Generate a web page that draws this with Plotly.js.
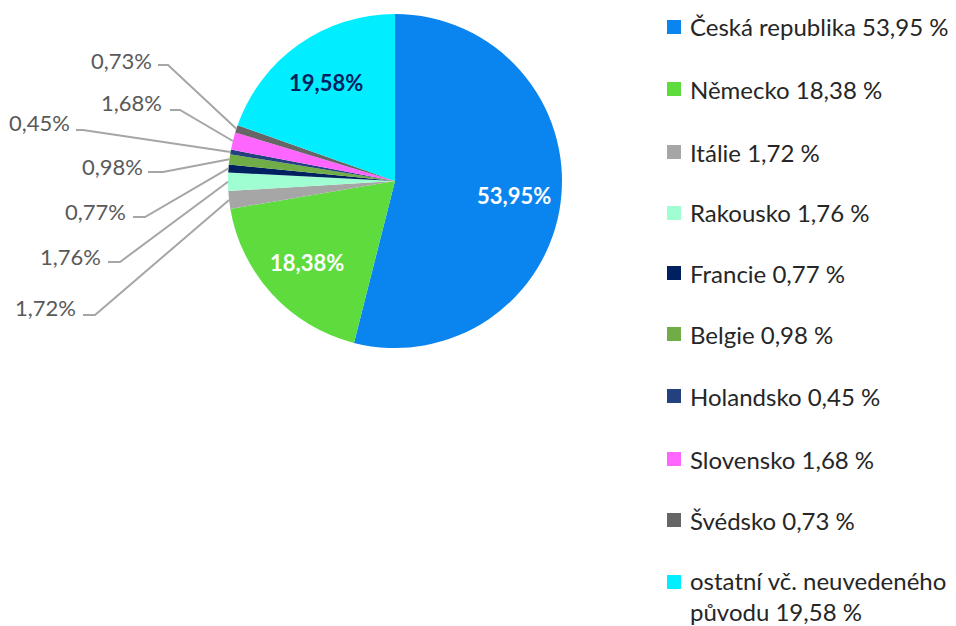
<!DOCTYPE html>
<html><head><meta charset="utf-8">
<script src="https://cdn.plot.ly/plotly-3.0.1.min.js"></script>
<style>body{margin:0;background:#fff}#c{width:956px;height:626px}</style>
</head><body><div id="c"></div>
<script>
// ---- data ----
const countries = ["Česká republika","Německo","Itálie","Rakousko","Francie","Belgie","Holandsko","Slovensko","Švédsko","ostatní vč. neuvedeného původu"];
const shares = [53.95,18.38,1.72,1.76,0.77,0.98,0.45,1.68,0.73,19.58];
const legendLabels = ["Česká republika 53,95 %","Německo 18,38 %","Itálie 1,72 %","Rakousko 1,76 %","Francie 0,77 %","Belgie 0,98 %","Holandsko 0,45 %","Slovensko 1,68 %","Švédsko 0,73 %","ostatní vč. neuvedeného<br>původu 19,58 %"];

// ---- styles / layout ----
const colors = ["#0A84EE","#5EDB3D","#A6A6A6","#A0FFD2","#002060","#70AD47","#23417E","#FF66FF","#666666","#00EEFF"];
const W = 956, H = 626;
const cx = 395, cy = 181, R = 167;
const FONT = "Lato, 'Open Sans', sans-serif";
const insideIdx = [0,1,9];
const insideColors = ["#ffffff","#ffffff","#002060"];
const insideRadius = 0.72;
const legendY = [27,89,152,213,273,334,396,459,520,596];
// outside label layout for small slices: [textRightX, textY, lineY, lineStartX, kneeX]
const outsideLayout = {
  2:[78,308,315,83,95],
  3:[103,256,262,108,120],
  4:[128,212,217,133,145],
  5:[145,166,172,148,163],
  6:[72,123,130,76,83],
  7:[164,103,110,170,180],
  8:[154,60,65,158,168]
};

const px = x => x / W, py = y => 1 - y / H;
const fmt = v => v.toFixed(2).replace('.', ',') + '%';

const trace = {
  type: 'pie', values: shares, labels: countries, sort: false, direction: 'clockwise', rotation: 0,
  marker: {colors: colors, line: {width: 0}},
  textinfo: 'none',
  domain: {x: [px(cx - R), px(cx + R)], y: [py(cy + R), py(cy - R)]},
  showlegend: false, hoverinfo: 'label+percent'
};

const shapes = [], annotations = [];
const total = shares.reduce((a,b)=>a+b,0);
let cum = 0;
shares.forEach((v,i) => {
  const mid = (cum + v/2) / total * 2 * Math.PI;
  cum += v;
  const k = insideIdx.indexOf(i);
  if (k >= 0) {
    const r = R * insideRadius;
    annotations.push({xref:'paper', yref:'paper', x:px(cx + r*Math.sin(mid)), y:py(cy - r*Math.cos(mid)),
      xanchor:'center', yanchor:'middle', text: fmt(v), showarrow:false,
      font:{family:FONT, size:22, color:insideColors[k], weight:'bold'}});
  }
  const L = outsideLayout[i];
  if (!L) return;
  const ex = cx + R * Math.sin(mid), ey = cy - R * Math.cos(mid);
  shapes.push({type:'path', xref:'paper', yref:'paper',
    path: `M ${px(L[3])} ${py(L[2])} L ${px(L[4])} ${py(L[2])} L ${px(ex)} ${py(ey)}`,
    line:{color:'#A6A6A6', width:2}});
  annotations.push({xref:'paper', yref:'paper', x:px(L[0]), y:py(L[1]), xanchor:'right', yanchor:'middle',
    text: fmt(v), showarrow:false, font:{family:FONT, size:22, color:'#595959'}});
});

legendLabels.forEach((t,i) => {
  const yc = i === legendLabels.length - 1 ? legendY[i] - 14 : legendY[i];
  shapes.push({type:'rect', xref:'paper', yref:'paper', x0:px(667), x1:px(681), y0:py(yc+7), y1:py(yc-7),
    fillcolor: colors[i], line:{width:0}});
  annotations.push({xref:'paper', yref:'paper', x:px(688), y:py(legendY[i]), xanchor:'left', yanchor:'middle', align:'left',
    text: t, showarrow:false, font:{family:FONT, size:24, color:'#262626'}});
});

Plotly.newPlot('c', [trace], {
  width: W, height: H, margin: {l:0, r:0, t:0, b:0},
  paper_bgcolor: '#fff', shapes: shapes, annotations: annotations, showlegend: false
}, {displayModeBar: false, staticPlot: true});
</script></body></html>
